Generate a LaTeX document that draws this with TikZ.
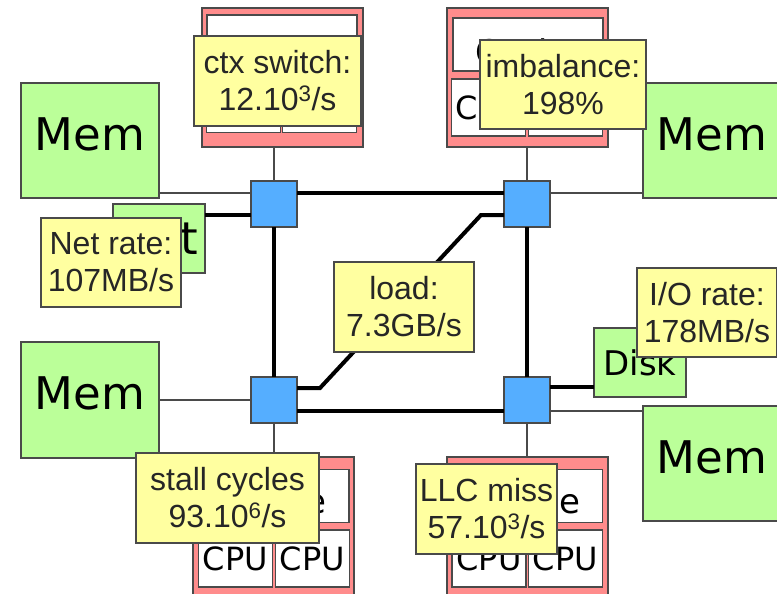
\documentclass[tikz,border=0pt]{standalone}
\usepackage{fontspec}
\setmainfont{Liberation Sans}
\newfontfamily\dejavu{DejaVu Sans}
\definecolor{memgreen}{HTML}{BBFF99}
\definecolor{chipred}{HTML}{FF8C8C}
\definecolor{labyellow}{HTML}{FFFFA0}
\definecolor{swblue}{HTML}{55AEFF}
\definecolor{edgegray}{HTML}{4A4A4A}
\begin{document}
\begin{tikzpicture}[x=1pt,y=-1pt,
  box/.style={draw=edgegray,line width=1.3pt,inner sep=0pt,outer sep=0pt,anchor=center},
  membox/.style={box,fill=memgreen,minimum width=138pt,minimum height=115pt,text height=33pt,text depth=14pt,font=\dejavu\fontsize{45}{54}\selectfont},
  iobox/.style={box,fill=memgreen,minimum width=92pt,minimum height=69pt},
  chipbox/.style={box,fill=chipred,minimum width=161pt,minimum height=139pt},
  cachebox/.style={box,fill=white,minimum width=150pt,minimum height=53pt,text height=34pt,text depth=0pt,font=\dejavu\fontsize{34}{40}\selectfont},
  cpubox/.style={box,fill=white,minimum width=74pt,minimum height=57pt,font=\dejavu\fontsize{32}{38}\selectfont},
  switchbox/.style={box,fill=swblue,minimum width=46pt,minimum height=46pt},
  labelbox/.style={box,fill=labyellow,text=black!85,align=center,font=\fontsize{32}{37}\selectfont},
  thinline/.style={draw=edgegray,line width=1.5pt},
  thickline/.style={draw=black,line width=4pt}]
\useasboundingbox (0,0) rectangle (777,594);
\fill[white] (0,0) rectangle (777,594);

% chips
\node[chipbox] (chipTL) at (282.5,77.5) {};
\node[cachebox,text height=42pt] (cacheTL) at (282,41.5) {Cache};
\node[cpubox] (cpuTLa) at (243.5,104) {CPU};
\node[cpubox] (cpuTLb) at (319.5,104) {CPU};

\node[chipbox] (chipTR) at (527.5,77.5) {};
\node[cachebox,text height=40pt] (cacheTR) at (528,44.5) {Cache};
\node[cpubox] (cpuTRa) at (488.5,107.5) {CPU};
\node[cpubox] (cpuTRb) at (565.5,107.5) {CPU};

\node[chipbox] (chipBL) at (273.5,526.5) {};
\node[cachebox] (cacheBL) at (274,496) {Cache};
\node[cpubox] (cpuBLa) at (235.5,558.5) {CPU};
\node[cpubox] (cpuBLb) at (312.5,558.5) {CPU};

\node[chipbox] (chipBR) at (527.5,526.5) {};
\node[cachebox] (cacheBR) at (527.5,496) {Cache};
\node[cpubox] (cpuBRa) at (489,558.5) {CPU};
\node[cpubox] (cpuBRb) at (565.5,558.5) {CPU};

% memories and I/O
\node[membox] (memTL) at (90,140.5) {Mem};
\node[membox] (memTR) at (712,140.5) {Mem};
\node[membox,minimum height=116pt] (memBL) at (90,400) {Mem};
\node[membox] (memBR) at (712,463.5) {Mem};
\node[iobox,font=\dejavu\fontsize{45}{54}\selectfont] (net) at (159,238.5) {Net};
\node[iobox,font=\dejavu\fontsize{34}{40}\selectfont] (disk) at (640,362.5) {Disk};

% switches
\node[switchbox] (swTL) at (274,204) {};
\node[switchbox] (swTR) at (527,204) {};
\node[switchbox] (swBL) at (274,400) {};
\node[switchbox] (swBR) at (527,400) {};

% thin links
\draw[thinline] (memTL.east |- 0,193) -- (swTL.west |- 0,193);
\draw[thinline] (swTR.east |- 0,193) -- (memTR.west |- 0,193);
\draw[thinline] (memBL.east) -- (swBL.west);
\draw[thinline] (swBR.east |- 0,411) -- (memBR.west |- 0,411);
\draw[thinline] (swTL.north) -- (swTL.north |- chipTL.south);
\draw[thinline] (swTR.north) -- (swTR.north |- chipTR.south);
\draw[thinline] (swBL.south) -- (swBL.south |- chipBL.north);
\draw[thinline] (swBR.south) -- (swBR.south |- chipBR.north);

% thick links
\draw[thickline] (swTL.east |- 0,193) -- (swTR.west |- 0,193);
\draw[thickline] (swBL.east |- 0,411) -- (swBR.west |- 0,411);
\draw[thickline] (swTL.south) -- (swBL.north);
\draw[thickline] (swTR.south) -- (swBR.north);
\draw[thickline] (net.east |- 0,215) -- (swTL.west |- 0,215);
\draw[thickline] (swBR.east |- 0,387) -- (disk.west |- 0,387);
\draw[thickline] (swBL.east |- 0,388) -- (320,388) -- (481,215) -- (swTR.west |- 0,215);

% labels
\node[labelbox,minimum width=167pt,minimum height=90pt] (lctx) at (277.5,81) {ctx switch:\\12.10\textsuperscript{3}/s};
\node[labelbox,minimum width=166pt,minimum height=89pt] (limb) at (563,84.5) {imbalance:\\198\%};
\node[labelbox,minimum width=140pt,minimum height=89pt] (lnet) at (111,262.5) {Net rate:\\107MB/s};
\node[labelbox,minimum width=140pt,minimum height=89pt] (lio) at (707,312.5) {I/O rate:\\178MB/s};
\node[labelbox,minimum width=140pt,minimum height=90pt] (lload) at (404,307) {load:\\7.3GB/s};
\node[labelbox,minimum width=183pt,minimum height=90pt] (lstall) at (227.5,498) {stall cycles\\93.10\textsuperscript{6}/s};
\node[labelbox,minimum width=141pt,minimum height=90pt] (lllc) at (486.5,509) {LLC miss\\57.10\textsuperscript{3}/s};
\end{tikzpicture}
\end{document}
